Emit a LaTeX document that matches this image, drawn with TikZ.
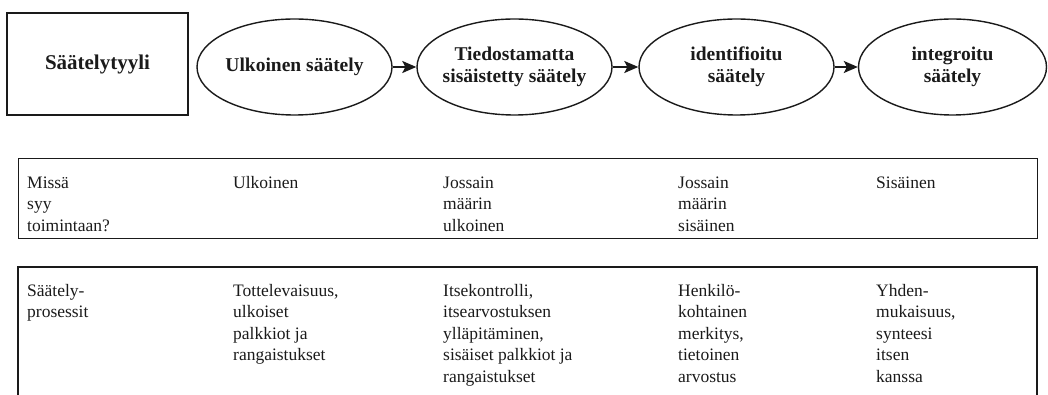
\documentclass[tikz,border=0pt]{standalone}
\usepackage{fontspec}
\setmainfont{Liberation Serif}
\usetikzlibrary{shapes.geometric,arrows.meta}
\definecolor{inkblack}{HTML}{1A1A1A}

\tikzset{
  stylebox/.style={draw=inkblack, line width=1.4pt, minimum width=181pt, minimum height=102pt, inner sep=0pt},
  stage/.style={draw=inkblack, ellipse, line width=1.4pt, minimum width=195pt, minimum height=96pt, inner sep=0pt},
  stagetext/.style={align=center, inner sep=0pt, text=inkblack, font=\bfseries\fontsize{19.5}{22}\selectfont},
  stagearrow/.style={-{Stealth[length=14pt,width=12pt,inset=3pt]}, line width=1.6pt, draw=inkblack},
  rowbox/.style={draw=inkblack, line width=1.4pt},
  cell/.style={anchor=north west, align=left, inner sep=0pt, text=inkblack, font=\fontsize{17.5}{21.5}\selectfont}
}

\begin{document}
\begin{tikzpicture}[x=1pt,y=-1pt]
  \useasboundingbox (0,0) rectangle (1048,395);
  % heading box and the four stages
  \node[stylebox] (style) at (97.5,64) {};
  \node[stagetext, font=\bfseries\fontsize{21}{24}\selectfont] (style-text) at (style) {Säätelytyyli};
  \node[stage] (external) at (294.5,67) {};
  \node[stagetext] (external-text) at (external) {Ulkoinen säätely};
  \node[stage] (introjected) at (514.5,67) {};
  \node[stagetext] (introjected-text) at (introjected) {Tiedostamatta\\sisäistetty säätely};
  \node[stage] (identified) at (736.5,67) {};
  \node[stagetext] (identified-text) at (identified) {identifioitu\\säätely};
  \node[stage, minimum width=188pt] (integrated) at (952.5,67) {};
  \node[stagetext] (integrated-text) at (integrated) {integroitu\\säätely};
  \draw[stagearrow] (external) -- (introjected);
  \draw[stagearrow] (introjected) -- (identified);
  \draw[stagearrow] (identified) -- (integrated);
  % first row
  \node[rowbox, anchor=north west, minimum width=1019pt, minimum height=80pt, inner sep=0pt] (causerow) at (18,158) {};
  \foreach \x/\name/\txt in {27/a/{Missä\\syy\\toimintaan?}, 233/b/{Ulkoinen},
      443/c/{Jossain\\määrin\\ulkoinen}, 678/d/{Jossain\\määrin\\sisäinen}, 876/e/{Sisäinen}}
    \node[cell] (cause-\name) at (\x,173) {\strut\txt};
  % second row, runs past the lower edge
  \draw[rowbox] (18,397) -- (18,267) -- (1037,267) -- (1037,397);
  \foreach \x/\name/\txt in {27/a/{Säätely-\\prosessit},
      233/b/{Tottelevaisuus,\\ulkoiset\\palkkiot ja\\rangaistukset},
      443/c/{Itsekontrolli,\\itsearvostuksen\\ylläpitäminen,\\sisäiset palkkiot ja\\rangaistukset},
      678/d/{Henkilö-\\kohtainen\\merkitys,\\tietoinen\\arvostus},
      876/e/{Yhden-\\mukaisuus,\\synteesi\\itsen\\kanssa}}
    \node[cell] (process-\name) at (\x,281) {\strut\txt};
\end{tikzpicture}
\end{document}
